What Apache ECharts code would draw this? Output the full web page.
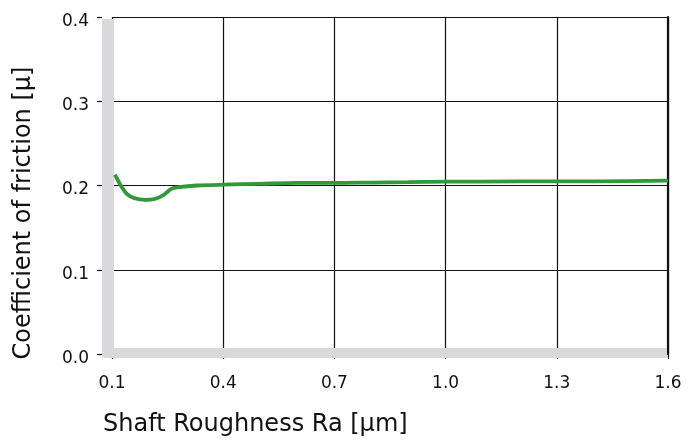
<!DOCTYPE html>
<html><head><meta charset="utf-8">
<script src="https://cdn.jsdelivr.net/npm/echarts@6/dist/echarts.min.js"></script>
<style>html,body{margin:0;padding:0;background:#fff}#c{width:700px;height:442px}</style>
</head><body><div id="c"></div>
<script>
const xTicks = [0.1, 0.4, 0.7, 1.0, 1.3, 1.6];
const yTicks = [0.0, 0.1, 0.2, 0.3, 0.4];
const roughness = [0.108,0.125,0.14,0.16,0.19,0.215,0.24,0.26,0.28,0.33,0.4,0.5,0.6,0.7,0.8,0.9,1.0,1.2,1.4,1.6];
const friction  = [0.213,0.199,0.190,0.185,0.183,0.184,0.189,0.196,0.198,0.200,0.201,0.202,0.203,0.203,0.2035,0.204,0.2045,0.2048,0.205,0.2058];
const xTitle = 'Shaft Roughness Ra [µm]';
const yTitle = 'Coefficient of friction [µ]';

const F = "'DejaVu Sans', sans-serif";
const chart = echarts.init(document.getElementById('c'));
chart.setOption({
  animation: false,
  grid: {left: 112, right: 32, top: 17, bottom: 88},
  xAxis: [{
    type: 'value', min: xTicks[0], max: xTicks[xTicks.length-1], offset: 4,
    axisLine: {show: false},
    axisTick: {show: true, length: 5, lineStyle: {color: '#111', width: 1.2}, customValues: xTicks},
    axisLabel: {customValues: xTicks, margin: 17, fontSize: 17, color: '#111', fontFamily: F,
      formatter: v => Number(v).toFixed(1)},
    splitLine: {show: true, lineStyle: {color: '#111', width: 1.2}}
  }, {
    type: 'value', position: 'top', min: xTicks[0], max: xTicks[xTicks.length-1],
    axisLine: {show: true, lineStyle: {color: '#111', width: 2.2}},
    axisTick: {show: false}, axisLabel: {show: false}, splitLine: {show: false}
  }],
  yAxis: [{
    type: 'value', min: yTicks[0], max: yTicks[yTicks.length-1], interval: 0.1, offset: 10,
    axisLine: {show: false},
    axisTick: {show: true, length: 5, lineStyle: {color: '#111', width: 1.2}},
    axisLabel: {margin: 13, fontSize: 17, color: '#111', fontFamily: F,
      verticalAlign: 'top', lineHeight: 9,
      formatter: v => Number(v).toFixed(1)},
    splitLine: {show: true, lineStyle: {color: '#111', width: 1.2}}
  }, {
    type: 'value', position: 'right', min: yTicks[0], max: yTicks[yTicks.length-1],
    axisLine: {show: true, lineStyle: {color: '#111', width: 2.2}},
    axisTick: {show: false}, axisLabel: {show: false}, splitLine: {show: false}
  }],
  graphic: [
    {type: 'rect', z: 1, shape: {x: 102, y: 19, width: 12, height: 339}, style: {fill: '#d9d9db'}},
    {type: 'rect', z: 1, shape: {x: 102, y: 348, width: 565, height: 10}, style: {fill: '#d9d9db'}},
    {type: 'text', z: 1, left: 103, top: 413, style: {text: xTitle, fontSize: 24, fill: '#111', fontFamily: F}},
    {type: 'text', z: 1, x: 24, y: 213, rotation: Math.PI / 2,
      style: {text: yTitle, fontSize: 24, fill: '#111', fontFamily: F, align: 'center', verticalAlign: 'middle'}}
  ],
  series: [{
    type: 'line', z: 5, smooth: 0.3, showSymbol: false,
    data: roughness.map((x, i) => [x, friction[i]]),
    lineStyle: {color: '#2f9a37', width: 3.8}
  }]
});
</script></body></html>
